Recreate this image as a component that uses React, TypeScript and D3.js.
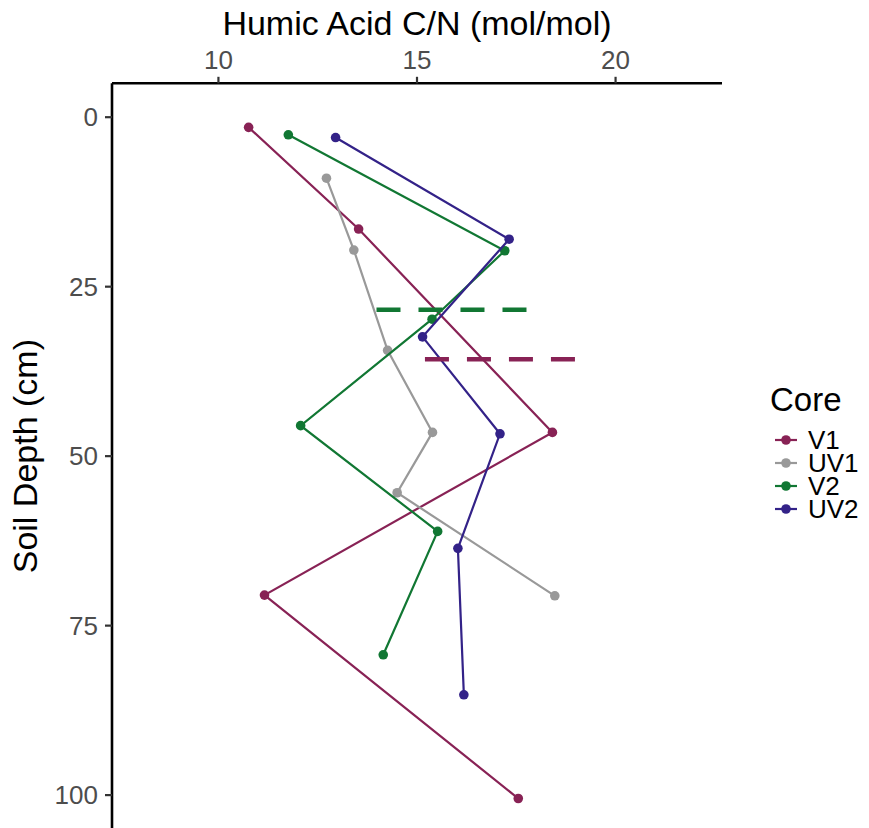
import React, { useEffect, useRef } from "react";
import * as d3 from "d3";

// Humic acid C/N ratio by soil depth for four cores
const cores = ["V1", "UV1", "V2", "UV2"];
const coreColors = ["#882255", "#999999", "#117733", "#332288"];

const v1CN = [10.76, 13.53, 18.41, 11.16, 17.55];
const v1Depth = [1.5, 16.5, 46.5, 70.5, 100.5];

const uv1CN = [12.72, 13.41, 14.26, 15.39, 14.5, 18.47];
const uv1Depth = [9.0, 19.6, 34.4, 46.5, 55.4, 70.6];

const v2CN = [11.76, 17.21, 15.38, 12.07, 15.52, 14.15];
const v2Depth = [2.6, 19.7, 29.8, 45.5, 61.1, 79.3];

const uv2CN = [12.95, 17.32, 15.14, 17.09, 16.03, 16.18];
const uv2Depth = [3.0, 18.0, 32.4, 46.7, 63.6, 85.2];

// Horizontal dashed markers (depth, C/N start, C/N end)
const markerCores = ["V2", "V1"];
const markerDepth = [28.4, 35.7];
const markerFrom = [13.98, 15.2];
const markerTo = [17.8, 19.05];

const xTicks = [10, 15, 20];
const yTicks = [0, 25, 50, 75, 100];

const W = 869;
const H = 828;

export default function App() {
  const ref = useRef<SVGSVGElement>(null);

  useEffect(() => {
    const svg = d3.select(ref.current);
    svg.selectAll("*").remove();

    const x = d3.scaleLinear().domain([7.32, 22.68]).range([112, 722]);
    const y = d3.scaleLinear().domain([-5, 105]).range([83.3, 829]);
    const color = d3.scaleOrdinal<string, string>().domain(cores).range(coreColors);

    const series = [
      { core: "V1", cn: v1CN, depth: v1Depth },
      { core: "UV1", cn: uv1CN, depth: uv1Depth },
      { core: "V2", cn: v2CN, depth: v2Depth },
      { core: "UV2", cn: uv2CN, depth: uv2Depth },
    ];

    const font = "'Liberation Sans', Arial, Helvetica, sans-serif";

    // data lines and points
    const line = d3
      .line<[number, number]>()
      .x((d) => x(d[0]))
      .y((d) => y(d[1]));

    const plot = svg.append("g");
    series.forEach((s) => {
      const pts = s.cn.map((v, i) => [v, s.depth[i]] as [number, number]);
      plot
        .append("path")
        .attr("d", line(pts))
        .attr("fill", "none")
        .attr("stroke", color(s.core))
        .attr("stroke-width", 2.2);
      plot
        .selectAll(null)
        .data(pts)
        .enter()
        .append("circle")
        .attr("cx", (d) => x(d[0]))
        .attr("cy", (d) => y(d[1]))
        .attr("r", 4.8)
        .attr("fill", color(s.core));
    });

    // dashed depth markers
    markerCores.forEach((c, i) => {
      plot
        .append("line")
        .attr("x1", x(markerFrom[i]))
        .attr("x2", x(markerTo[i]))
        .attr("y1", y(markerDepth[i]))
        .attr("y2", y(markerDepth[i]))
        .attr("stroke", color(c))
        .attr("stroke-width", 4.5)
        .attr("stroke-dasharray", "24 18");
    });

    // top axis
    const gx = svg.append("g").attr("transform", `translate(0,${y(-5)})`);
    gx.append("line")
      .attr("x1", x(7.32))
      .attr("x2", x(22.68))
      .attr("stroke", "#000")
      .attr("stroke-width", 2.6);
    xTicks.forEach((t) => {
      gx.append("line")
        .attr("x1", x(t))
        .attr("x2", x(t))
        .attr("y1", 0)
        .attr("y2", -6.5)
        .attr("stroke", "#333")
        .attr("stroke-width", 2.2);
      gx.append("text")
        .attr("x", x(t))
        .attr("y", -14)
        .attr("text-anchor", "middle")
        .attr("font-family", font)
        .attr("font-size", 26)
        .attr("fill", "#4D4D4D")
        .text(t);
    });

    // left axis
    const gy = svg.append("g").attr("transform", `translate(${x(7.32)},0)`);
    gy.append("line")
      .attr("y1", y(-5))
      .attr("y2", H + 2)
      .attr("stroke", "#000")
      .attr("stroke-width", 2.6);
    yTicks.forEach((t) => {
      gy.append("line")
        .attr("x1", 0)
        .attr("x2", -7)
        .attr("y1", y(t))
        .attr("y2", y(t))
        .attr("stroke", "#333")
        .attr("stroke-width", 2.2);
      gy.append("text")
        .attr("x", -14)
        .attr("y", y(t))
        .attr("dy", "0.35em")
        .attr("text-anchor", "end")
        .attr("font-family", font)
        .attr("font-size", 26)
        .attr("fill", "#4D4D4D")
        .text(t);
    });

    // axis titles
    svg
      .append("text")
      .attr("x", (x(7.32) + x(22.68)) / 2)
      .attr("y", 35)
      .attr("text-anchor", "middle")
      .attr("font-family", font)
      .attr("font-size", 34)
      .attr("fill", "#000")
      .text("Humic Acid C/N (mol/mol)");

    svg
      .append("text")
      .attr("transform", `translate(37,${(y(-5) + 829) / 2}) rotate(-90)`)
      .attr("text-anchor", "middle")
      .attr("font-family", font)
      .attr("font-size", 34)
      .attr("fill", "#000")
      .text("Soil Depth (cm)");

    // legend
    const lg = svg.append("g").attr("transform", "translate(770,0)");
    lg.append("text")
      .attr("x", 0)
      .attr("y", 411)
      .attr("font-family", font)
      .attr("font-size", 33)
      .attr("fill", "#000")
      .text("Core");
    cores.forEach((c, i) => {
      const cy = 440 + i * 23;
      lg.append("line")
        .attr("x1", 5)
        .attr("x2", 27)
        .attr("y1", cy)
        .attr("y2", cy)
        .attr("stroke", color(c))
        .attr("stroke-width", 2.2);
      lg.append("circle").attr("cx", 16).attr("cy", cy).attr("r", 4.8).attr("fill", color(c));
      lg.append("text")
        .attr("x", 38)
        .attr("y", cy)
        .attr("dy", "0.35em")
        .attr("font-family", font)
        .attr("font-size", 26)
        .attr("fill", "#000")
        .text(c);
    });
  }, []);

  return (
    <svg
      ref={ref}
      width={W}
      height={H}
      style={{ position: "absolute", left: 0, top: 0, background: "#fff" }}
    />
  );
}
